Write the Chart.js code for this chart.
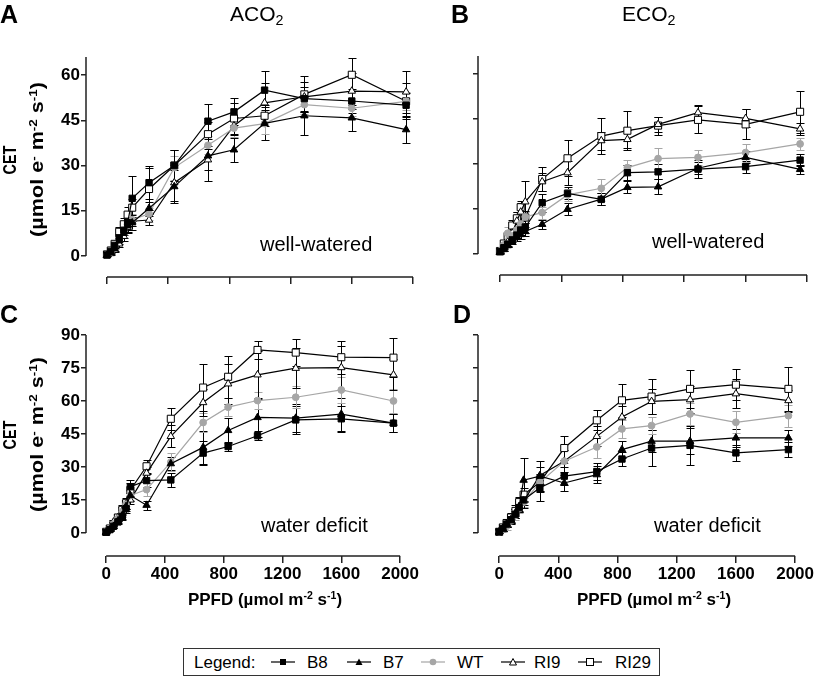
<!DOCTYPE html>
<html>
<head>
<meta charset="utf-8">
<script src="https://cdn.jsdelivr.net/npm/chart.js@4.4.1/dist/chart.umd.min.js"></script>
<style>
body { margin:0; background:#fff; font-family:"Liberation Sans", Arial, sans-serif; }
#fig { position:relative; width:825px; height:677px; overflow:hidden; background:#fff; }
#fig canvas { position:absolute; }
.t { position:absolute; line-height:1; white-space:nowrap; color:#000; }
.lab { font-size:25px; font-weight:bold; }
.col { font-size:21px; }
.cond { font-size:20px; }
.xt { font-size:17px; font-weight:bold; width:300px; text-align:center; }
sup { font-size:0.62em; position:relative; top:-0.55em; vertical-align:baseline; }
sub { font-size:0.68em; position:relative; top:0.3em; vertical-align:baseline; }
.yt { position:absolute; width:220px; height:54px; line-height:27px; text-align:center; font-weight:bold; font-size:18px; transform:rotate(-90deg); color:#000; white-space:nowrap; }
.yt span { display:inline-block; }
#legend { position:absolute; left:183px; top:648px; width:475px; height:26px; border:1px solid #333; }
.lg { position:absolute; top:654px; font-size:17px; line-height:1; white-space:nowrap; }
.ic { position:absolute; top:655px; }
</style>
</head>
<body>
<div id="fig">
  <canvas id="chartA" width="420" height="300" style="left:0;top:0"></canvas>
  <canvas id="chartB" width="415" height="300" style="left:400px;top:0"></canvas>
  <canvas id="chartC" width="420" height="320" style="left:0;top:300px"></canvas>
  <canvas id="chartD" width="415" height="320" style="left:400px;top:300px"></canvas>

  <div class="t lab" style="left:0;top:2px">A</div>
  <div class="t lab" style="left:451px;top:2px">B</div>
  <div class="t lab" style="left:0;top:302px">C</div>
  <div class="t lab" style="left:453px;top:302px">D</div>

  <div class="t col" style="left:230px;top:3px">ACO<sub>2</sub></div>
  <div class="t col" style="left:622px;top:3px">ECO<sub>2</sub></div>

  <div class="t cond" style="left:260px;top:234px">well-watered</div>
  <div class="t cond" style="left:652px;top:231px">well-watered</div>
  <div class="t cond" style="left:261px;top:515px">water deficit</div>
  <div class="t cond" style="left:654px;top:515px">water deficit</div>

  <div class="yt" style="left:-86px;top:133px">
    <div><span style="transform:scaleX(0.8)">CET</span></div>
    <div><span style="transform:scaleX(1.2)">(µmol e<sup>-</sup> m<sup>-2</sup> s<sup>-1</sup>)</span></div>
  </div>
  <div class="yt" style="left:-86px;top:408px">
    <div><span style="transform:scaleX(0.8)">CET</span></div>
    <div><span style="transform:scaleX(1.2)">(µmol e<sup>-</sup> m<sup>-2</sup> s<sup>-1</sup>)</span></div>
  </div>

  <div class="t xt" style="left:115px;top:591px">PPFD (µmol m<sup>-2</sup> s<sup>-1</sup>)</div>
  <div class="t xt" style="left:504px;top:591px">PPFD (µmol m<sup>-2</sup> s<sup>-1</sup>)</div>

  <div id="legend"></div>
  <div class="lg" style="left:194px">Legend:</div>
  <svg class="ic" style="left:271px" width="24" height="14"><line x1="0" y1="7" x2="24" y2="7" stroke="#000" stroke-width="1.2"/><rect x="9" y="4" width="6" height="6" fill="#000"/></svg>
  <div class="lg" style="left:307px">B8</div>
  <svg class="ic" style="left:347px" width="24" height="14"><line x1="0" y1="7" x2="24" y2="7" stroke="#000" stroke-width="1.2"/><polygon points="12,3.5 15.5,10 8.5,10" fill="#000"/></svg>
  <div class="lg" style="left:383px">B7</div>
  <svg class="ic" style="left:421px" width="24" height="14"><line x1="0" y1="7" x2="24" y2="7" stroke="#a6a6a6" stroke-width="1.2"/><circle cx="12" cy="7" r="3.3" fill="#a6a6a6"/></svg>
  <div class="lg" style="left:457px">WT</div>
  <svg class="ic" style="left:501px" width="24" height="14"><line x1="0" y1="7" x2="24" y2="7" stroke="#000" stroke-width="1.2"/><polygon points="12,3.5 15.5,10 8.5,10" fill="#fff" stroke="#000" stroke-width="1"/></svg>
  <div class="lg" style="left:534px">RI9</div>
  <svg class="ic" style="left:578px" width="24" height="14"><line x1="0" y1="7" x2="24" y2="7" stroke="#000" stroke-width="1.2"/><rect x="8.5" y="3.5" width="7" height="7" fill="#fff" stroke="#000" stroke-width="1"/></svg>
  <div class="lg" style="left:615px">RI29</div>
</div>

<script>
// light levels (PPFD) shared by every panel
const ppfd = [0, 25, 50, 80, 110, 135, 165, 275, 440, 660, 830, 1030, 1290, 1600, 1955];
const tickX = [0, 400, 800, 1200, 1600, 2000];
const tickYwet = [0, 15, 30, 45, 60];
const tickYdry = [0, 15, 30, 45, 60, 75, 90];
const lines = ['B8', 'B7', 'WT', 'RI9', 'RI29'];

// A: ACO2, well-watered
const panelA_B8   = [0.3, 1.5, 3.5, 6, 8.5, 11, 19.1, 24.3, 30, 44.7, 47.8, 55, 52.2, 51.4, 50];
const panelA_B7   = [0.2, 1, 2.5, 5, 7.5, 10, 11, 15.8, 23, 33.2, 35.2, 44, 46.5, 45.8, 41.9];
const panelA_WT   = [0.3, 1.2, 3, 5.5, 8.5, 10.5, 12, 14, 29.3, 36.7, 42.4, 43.9, 50.2, 49, 51.3];
const panelA_RI9  = [0.2, 0.8, 2, 4, 6.5, 9.5, 11.5, 11.9, 24.3, 31.9, 43.2, 50.8, 52.8, 54.7, 54.4];
const panelA_RI29 = [0.5, 1.8, 4, 8, 10.5, 13.7, 16, 22.2, 30, 40.4, 45.6, 46.5, 53.6, 60.1, 51.3];
const panelA_B8Err   = [0.3, 0.5, 0.8, 1, 1.5, 2, 7.5, 5.5, 5, 5.8, 4.5, 6.5, 4, 4, 4];
const panelA_B7Err   = [0.3, 0.5, 0.8, 1, 1.5, 2, 2.5, 2, 5.5, 8.3, 4, 5.5, 6.3, 4.3, 4.5];
const panelA_WTErr   = [0.3, 0.5, 0.8, 1, 1.5, 1.5, 2, 2, 4, 3, 3, 3.5, 3, 2.5, 3];
const panelA_RI9Err  = [0.3, 0.5, 0.8, 1, 1.5, 2, 1.5, 1.5, 6, 3.5, 3, 6.5, 5, 6, 7];
const panelA_RI29Err = [0.3, 0.5, 0.8, 1.5, 2, 2.5, 3, 7, 5, 4, 5, 3.5, 6, 5.5, 6];

// B: ECO2, well-watered
const panelB_B8   = [0.8, 2.1, 3.3, 4.7, 6.3, 8, 9, 17.1, 20.2, 18.2, 27.1, 27.4, 28.3, 29.1, 31.3];
const panelB_B7   = [0.5, 1.5, 2.8, 4, 5.5, 6.5, 7.5, 9.9, 14.9, 18.3, 22.2, 22.4, 28.6, 32.2, 28.2];
const panelB_WT   = [1, 3, 6.9, 6, 8, 10, 12.4, 13.8, 19.7, 21.9, 28.8, 31.8, 32.2, 33.8, 36.7];
const panelB_RI9  = [0.5, 2, 4, 7, 11, 14, 17.4, 24.1, 27.1, 37.8, 38.2, 43.2, 47.1, 45.2, 41.7];
const panelB_RI29 = [1, 3.5, 6, 9.5, 11.9, 15.6, 12.2, 25, 31.9, 39.3, 41.1, 42.8, 44.7, 43.2, 47.4];
const panelB_B8Err   = [0.3, 0.5, 0.6, 0.8, 1, 1.5, 2, 3, 2, 2, 2.5, 2.5, 3, 2, 2];
const panelB_B7Err   = [0.3, 0.5, 0.6, 0.8, 1, 1.5, 1.5, 1.5, 2, 2, 2, 2.5, 2, 2, 1.5];
const panelB_WTErr   = [0.5, 1.5, 2, 1.5, 1.5, 1.5, 1.5, 2, 2, 3, 2.5, 3.5, 2.5, 3, 2];
const panelB_RI9Err  = [0.5, 1, 1.5, 2, 3, 3, 7, 3, 4, 3, 3, 2.5, 2.5, 3, 2];
const panelB_RI29Err = [0.5, 1, 1.5, 2, 2, 2, 2, 4, 6, 6, 6.5, 3, 4.5, 5, 7];

// C: ACO2, water deficit
const panelC_B8   = [0.3, 1.5, 3, 5, 7.5, 11, 21, 23.8, 24.1, 36.3, 39.3, 44.2, 51.4, 51.9, 49.9];
const panelC_B7   = [0.3, 1.5, 3, 5.5, 8, 12, 17, 12.6, 31.5, 38.9, 46.6, 52.5, 52.2, 54, 49.9];
const panelC_WT   = [0.5, 2, 4, 6.5, 9.5, 13, 17, 19.7, 32.2, 50.2, 57.2, 60.2, 61.7, 65, 60];
const panelC_RI9  = [0.5, 2, 5, 7, 10, 13, 15, 27.2, 43.9, 59.3, 67.8, 71.9, 74.9, 75.2, 71.9];
const panelC_RI29 = [0.5, 2, 4, 7, 10.5, 13.5, 19.5, 30.3, 51.9, 66.1, 71, 83.2, 82, 79.9, 79.7];
const panelC_B8Err   = [0.3, 0.5, 0.8, 1, 1.5, 2, 3, 3, 3, 5.5, 2, 2, 6.5, 6, 4];
const panelC_B7Err   = [0.3, 0.5, 0.8, 1, 1.5, 2, 2.5, 2, 3, 7.5, 5.5, 9, 6.5, 7.5, 4];
const panelC_WTErr   = [0.3, 0.5, 1, 1.5, 2, 2, 2, 3, 4, 4.5, 4, 4, 5, 6, 5.5];
const panelC_RI9Err  = [0.3, 0.5, 1, 1.5, 2, 2, 2, 3, 5, 6, 9, 11, 9, 10, 7];
const panelC_RI29Err = [0.3, 0.5, 1, 1.5, 2, 2.5, 3, 3, 5, 10.5, 9.5, 4, 6, 7.5, 9];

// D: ECO2, water deficit
const panelD_B8   = [0.5, 2, 4, 6, 8.5, 11.5, 15, 20.5, 25.8, 27.9, 33.6, 38.6, 39.8, 36.4, 37.9];
const panelD_B7   = [0.5, 2, 4, 6, 9, 12, 24, 25.8, 22.7, 26.5, 37.9, 41.7, 41.7, 43.2, 43.2];
const panelD_WT   = [0.5, 1.5, 3, 5.5, 8, 11, 14, 23, 32.6, 39.1, 47.3, 48.8, 54.1, 50.3, 53.3];
const panelD_RI9  = [0.5, 2, 4, 6, 9, 12, 14.5, 26.1, 32.6, 43.9, 52.7, 59.8, 60.6, 63.3, 60.2];
const panelD_RI29 = [0.5, 2.5, 4.5, 7, 10, 14, 17.4, 23, 38.6, 51.2, 60.3, 62, 65.5, 67.4, 65.5];
const panelD_B8Err   = [0.5, 1, 1, 1.5, 1.5, 2, 2.5, 6, 4, 4, 3, 8, 9, 3.5, 3.5];
const panelD_B7Err   = [0.5, 1, 1.5, 1.5, 2, 2, 10, 7, 3.5, 4, 4, 5, 6, 4, 3.5];
const panelD_WTErr   = [0.5, 1, 1.5, 1.5, 2, 2, 2, 4, 5, 5, 4, 4, 5, 5, 5];
const panelD_RI9Err  = [0.5, 1, 1.5, 2, 2, 2.5, 3, 4, 5, 4.5, 5, 5.5, 6, 6.5, 5];
const panelD_RI29Err = [0.5, 1.5, 2, 2, 2.5, 2.5, 3, 4, 5.5, 4.5, 7.5, 8, 8.5, 7, 10];

const grey = '#a6a6a6';
const looks = [
  { style: 'rect',     radius: 4.5, fill: '#000', edge: '#000' },
  { style: 'triangle', radius: 4.3, fill: '#000', edge: '#000' },
  { style: 'circle',   radius: 3.4, fill: grey,   edge: grey },
  { style: 'triangle', radius: 4.3, fill: '#fff', edge: '#000' },
  { style: 'rect',     radius: 5,   fill: '#fff', edge: '#000' }
];

Chart.defaults.font.family = '"Liberation Sans", Arial, sans-serif';

// whiskers under the markers
const errorBars = {
  id: 'errorBars',
  beforeDatasetsDraw(chart) {
    const ctx = chart.ctx, xs = chart.scales.x, ys = chart.scales.y;
    chart.data.datasets.forEach(ds => {
      ctx.save();
      ctx.strokeStyle = ds.borderColor;
      ctx.lineWidth = 1;
      ds.data.forEach((p, i) => {
        const e = ds.errors[i];
        const px = Math.round(xs.getPixelForValue(p.x)) + 0.5;
        const top = Math.round(ys.getPixelForValue(p.y + e)) + 0.5;
        const bot = Math.round(ys.getPixelForValue(p.y - e)) + 0.5;
        ctx.beginPath();
        ctx.moveTo(px, top); ctx.lineTo(px, bot);
        ctx.moveTo(px - 4, top); ctx.lineTo(px + 4, top);
        ctx.moveTo(px - 4, bot); ctx.lineTo(px + 4, bot);
        ctx.stroke();
      });
      ctx.restore();
    });
  }
};

// detached axis lines (y stops at 0, x starts at 0)
const axisLines = {
  id: 'axisLines',
  beforeDatasetsDraw(chart) {
    const ctx = chart.ctx, a = chart.chartArea, xs = chart.scales.x, ys = chart.scales.y;
    ctx.save();
    ctx.strokeStyle = '#222';
    ctx.lineWidth = 1.5;
    ctx.beginPath();
    ctx.moveTo(a.left, ys.getPixelForValue(0));
    ctx.lineTo(a.left, a.top);
    ctx.moveTo(xs.getPixelForValue(tickX[0]), a.bottom);
    ctx.lineTo(xs.getPixelForValue(tickX[tickX.length - 1]), a.bottom);
    ctx.stroke();
    ctx.restore();
  }
};

function makeSets(vals, errs) {
  return lines.map((name, k) => ({
    label: name,
    data: ppfd.map((x, i) => ({ x: x, y: vals[k][i] })),
    errors: errs[k],
    showLine: true,
    clip: false,
    borderColor: looks[k].edge,
    borderWidth: 1.2,
    pointStyle: looks[k].style,
    pointRadius: looks[k].radius,
    pointBackgroundColor: looks[k].fill,
    pointBorderColor: looks[k].edge,
    pointBorderWidth: 1
  }));
}

function makePanel(id, sets, o) {
  return new Chart(document.getElementById(id), {
    type: 'scatter',
    data: { datasets: sets },
    options: {
      responsive: false,
      animation: false,
      layout: { padding: { top: o.top, right: o.right, left: 0, bottom: 0 } },
      plugins: { legend: { display: false }, tooltip: { enabled: false } },
      scales: {
        x: {
          type: 'linear', min: o.xMin, max: 2000,
          afterBuildTicks: s => { s.ticks = tickX.map(v => ({ value: v })); },
          afterFit: s => { s.height = o.xH; },
          grid: { drawOnChartArea: false, tickLength: 7, color: '#222', lineWidth: 1.5 },
          border: { display: false },
          ticks: { display: o.xLabels, maxRotation: 0, autoSkip: false, padding: 1,
                   callback: v => String(v),
                   color: '#000', font: { size: 17, weight: 'bold' } }
        },
        y: {
          type: 'linear', min: o.yMin, max: o.yMax,
          afterBuildTicks: s => { s.ticks = o.yTicks.map(v => ({ value: v })); },
          afterFit: s => { s.width = o.yW; },
          grid: { drawOnChartArea: false, tickLength: 5, color: '#222', lineWidth: 1.5 },
          border: { display: false },
          ticks: { display: o.yLabels, padding: 1, callback: v => String(v),
                   color: '#000', font: { size: 17, weight: 'bold' } }
        }
      }
    },
    plugins: [axisLines, errorBars]
  });
}

makePanel('chartA',
  makeSets([panelA_B8, panelA_B7, panelA_WT, panelA_RI9, panelA_RI29],
           [panelA_B8Err, panelA_B7Err, panelA_WTErr, panelA_RI9Err, panelA_RI29Err]),
  { top: 57, right: 7, yW: 86, xH: 23, xMin: -137, yMin: -7, yMax: 66, yTicks: tickYwet, xLabels: false, yLabels: true });

makePanel('chartB',
  makeSets([panelB_B8, panelB_B7, panelB_WT, panelB_RI9, panelB_RI29],
           [panelB_B8Err, panelB_B7Err, panelB_WTErr, panelB_RI9Err, panelB_RI29Err]),
  { top: 56, right: 8, yW: 78, xH: 25, xMin: -143, yMin: -7, yMax: 66, yTicks: tickYwet, xLabels: false, yLabels: false });

makePanel('chartC',
  makeSets([panelC_B8, panelC_B7, panelC_WT, panelC_RI9, panelC_RI29],
           [panelC_B8Err, panelC_B7Err, panelC_WTErr, panelC_RI9Err, panelC_RI29Err]),
  { top: 35, right: 7, yW: 86, xH: 64, xMin: -137, yMin: -10.5, yMax: 90, yTicks: tickYdry, xLabels: true, yLabels: true });

makePanel('chartD',
  makeSets([panelD_B8, panelD_B7, panelD_WT, panelD_RI9, panelD_RI29],
           [panelD_B8Err, panelD_B7Err, panelD_WTErr, panelD_RI9Err, panelD_RI29Err]),
  { top: 35, right: 8, yW: 78, xH: 64, xMin: -143, yMin: -10.5, yMax: 90, yTicks: tickYdry, xLabels: true, yLabels: false });
</script>
</body>
</html>
